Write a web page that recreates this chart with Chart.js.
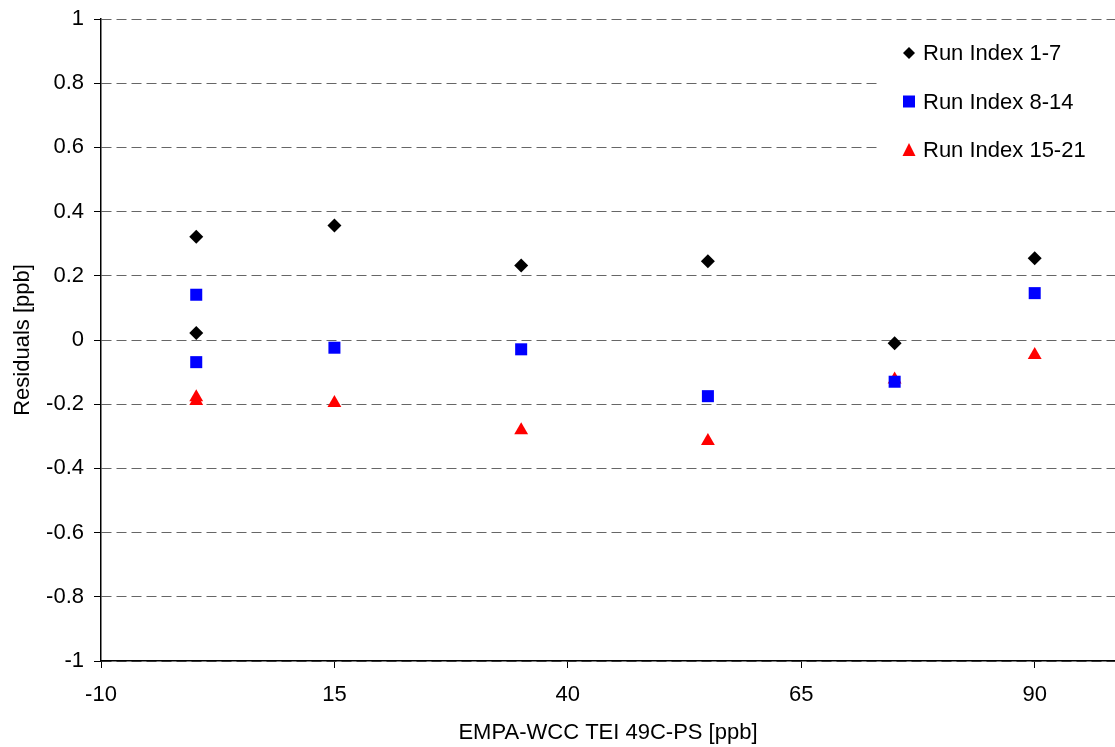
<!DOCTYPE html>
<html lang="en">
<head>
  <meta charset="UTF-8">
  <title>Residuals</title>
  <style>
    body { margin: 0; background: #fff; overflow: hidden; }
  </style>
</head>
<body>
  <canvas id="grafico" width="1115" height="747"></canvas>

  <script src="https://cdn.jsdelivr.net/npm/chart.js"></script>
  <script>
    // Dados
    const seriesNames = ["Run Index 1-7", "Run Index 8-14", "Run Index 15-21"];
    const xRun1 = [0.2, 0.2, 15, 35, 55, 75, 90];
    const yRun1 = [0.322, 0.022, 0.357, 0.232, 0.245, -0.010, 0.255];
    const xRun2 = [0.2, 0.2, 15, 35, 55, 75, 90];
    const yRun2 = [0.141, -0.069, -0.024, -0.029, -0.175, -0.130, 0.146];
    const xRun3 = [0.2, 0.2, 15, 35, 55, 75, 90];
    const yRun3 = [-0.178, -0.190, -0.196, -0.281, -0.315, -0.123, -0.047];
    const xTicks = [-10, 15, 40, 65, 90];

    const fonte = "'Liberation Sans', Arial, sans-serif";

    function pontos(xs, ys) {
      return xs.map((x, i) => ({ x: x, y: ys[i] }));
    }

    // Legenda desenhada dentro da área do gráfico, com fundo branco
    const legendaInterna = {
      id: 'legendaInterna',
      afterDatasetsDraw(chart) {
        const ctx = chart.ctx;
        const area = chart.chartArea;
        const x0 = area.right - 237;
        ctx.save();
        ctx.fillStyle = '#fff';
        ctx.fillRect(x0, area.top + 9, area.right - x0, 150);
        const estilos = [
          { cor: '#000', forma: 'diamond' },
          { cor: '#0000ff', forma: 'square' },
          { cor: '#ff0000', forma: 'triangle' }
        ];
        ctx.font = '22px ' + fonte;
        ctx.textBaseline = 'middle';
        seriesNames.forEach((nome, i) => {
          const cy = area.top + 34 + i * 48.5;
          const cx = x0 + 31;
          ctx.fillStyle = estilos[i].cor;
          ctx.beginPath();
          if (estilos[i].forma === 'diamond') {
            ctx.moveTo(cx, cy - 6); ctx.lineTo(cx + 6, cy); ctx.lineTo(cx, cy + 6); ctx.lineTo(cx - 6, cy);
          } else if (estilos[i].forma === 'square') {
            ctx.rect(cx - 6, cy - 6, 12, 12);
          } else {
            ctx.moveTo(cx, cy - 7); ctx.lineTo(cx + 6.5, cy + 6); ctx.lineTo(cx - 6.5, cy + 6);
          }
          ctx.closePath();
          ctx.fill();
          ctx.fillStyle = '#000';
          ctx.fillText(nome, x0 + 45, cy + 1);
        });
        ctx.restore();
      }
    };

    const ctx = document.getElementById('grafico').getContext('2d');
    const grafico = new Chart(ctx, {
      type: 'scatter',
      data: {
        datasets: [
          {
            label: seriesNames[0],
            data: pontos(xRun1, yRun1),
            pointStyle: 'rectRot',
            pointRadius: 7,
            backgroundColor: '#000',
            borderColor: '#000',
            borderWidth: 0
          },
          {
            label: seriesNames[1],
            data: pontos(xRun2, yRun2),
            pointStyle: 'rect',
            pointRadius: 8.5,
            backgroundColor: '#0000ff',
            borderColor: '#0000ff',
            borderWidth: 0
          },
          {
            label: seriesNames[2],
            data: pontos(xRun3, yRun3),
            pointStyle: 'triangle',
            pointRadius: 8,
            backgroundColor: '#ff0000',
            borderColor: '#ff0000',
            borderWidth: 0
          }
        ]
      },
      options: {
        responsive: false,
        animation: false,
        layout: { autoPadding: false, padding: { top: 19, right: 0, left: 0, bottom: 0 } },
        plugins: {
          legend: { display: false },
          tooltip: { enabled: false }
        },
        scales: {
          x: {
            type: 'linear',
            min: -10,
            max: 98.6,
            afterBuildTicks(scale) {
              scale.ticks = xTicks.map(v => ({ value: v }));
            },
            afterFit(scale) {
              scale.height = 86;
              scale.paddingRight = 0;
            },
            border: { display: true, color: '#000', width: 1.5 },
            grid: {
              drawOnChartArea: false,
              drawTicks: true,
              tickLength: 7,
              tickColor: '#000'
            },
            ticks: {
              color: '#000',
              font: { family: fonte, size: 22 },
              padding: 14,
              maxRotation: 0
            },
            title: {
              display: true,
              text: 'EMPA-WCC TEI 49C-PS [ppb]',
              color: '#000',
              font: { family: fonte, size: 22 },
              padding: { top: 1, bottom: 1 }
            }
          },
          y: {
            min: -1,
            max: 1,
            afterFit(scale) {
              scale.width = 101;
              scale.paddingTop = 0;
            },
            border: { display: true, color: '#000', width: 1.5, dash: [10, 5] },
            grid: {
              color: '#666',
              lineWidth: 1,
              tickLength: 7,
              tickColor: '#000',
              tickBorderDash: []
            },
            ticks: {
              stepSize: 0.2,
              color: '#000',
              font: { family: fonte, size: 22 },
              padding: 10,
              callback: v => String(Math.round(v * 10) / 10)
            },
            title: {
              display: true,
              text: 'Residuals [ppb]',
              color: '#000',
              font: { family: fonte, size: 22 },
              padding: { top: 10, bottom: 0 }
            }
          }
        }
      },
      plugins: [legendaInterna]
    });
  </script>
</body>
</html>
